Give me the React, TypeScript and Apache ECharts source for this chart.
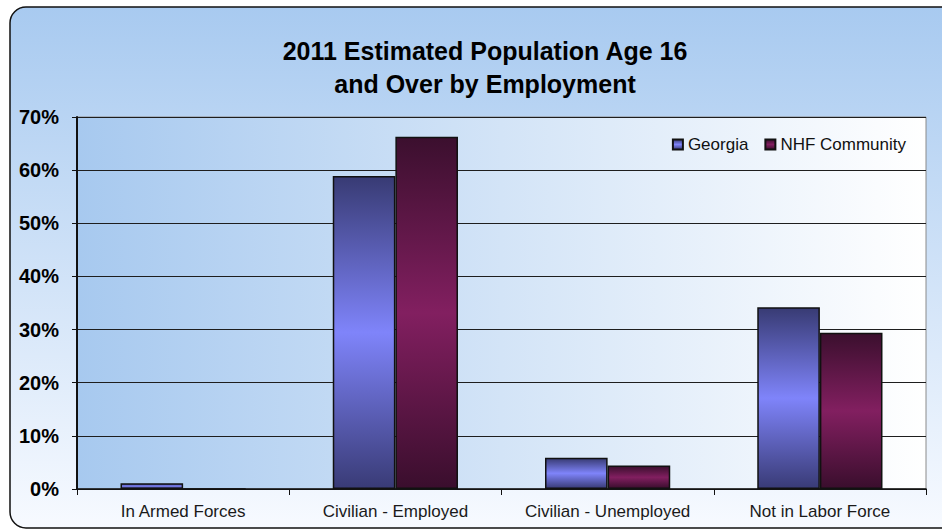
import React, { useEffect, useRef } from "react";
import * as echarts from "echarts";

const categories = ["In Armed Forces", "Civilian - Employed", "Civilian - Unemployed", "Not in Labor Force"];
const georgia = [1.1, 58.9, 5.9, 34.2];
const nhfCommunity = [0, 66.3, 4.4, 29.4];
const seriesNames = ["Georgia", "NHF Community"];
const titleText = "2011 Estimated Population Age 16\nand Over by Employment";

const FONT = "'Liberation Sans', Arial, sans-serif";

function barGradient(dark: string, light: string, dark2: string) {
  return new echarts.graphic.LinearGradient(0, 0, 0, 1, [
    { offset: 0, color: dark },
    { offset: 0.5, color: light },
    { offset: 1, color: dark2 },
  ]);
}

export default function App() {
  const ref = useRef<HTMLDivElement>(null);
  useEffect(() => {
    if (!ref.current) return;
    const chart = echarts.init(ref.current, null, { renderer: "svg" });
    chart.setOption({
      animation: false,
      backgroundColor: "#ffffff",
      graphic: [
        {
          type: "rect",
          z: -10,
          silent: true,
          shape: { x: 10, y: 7, width: 960, height: 521, r: 16 },
          style: {
            fill: new echarts.graphic.LinearGradient(0, 0, 0, 1, [
              { offset: 0, color: "#a8caf0" },
              { offset: 1, color: "#f7faff" },
            ]),
            stroke: "#111",
            lineWidth: 1.5,
          },
        },
      ],
      title: {
        text: titleText,
        left: 480,
        top: 29,
        textAlign: "center",
        textStyle: {
          fontFamily: FONT,
          fontSize: 25,
          fontWeight: "bold",
          color: "#000",
          lineHeight: 33,
        },
      },
      legend: {
        data: seriesNames,
        right: 31,
        top: 131,
        icon: "rect",
        itemWidth: 10,
        itemHeight: 10,
        itemGap: 16,
        textStyle: { fontFamily: FONT, fontSize: 17, color: "#111", padding: [0, 0, 0, 0] },
      },
      grid: {
        left: 77,
        right: 16,
        top: 117,
        bottom: 40,
        show: true,
        backgroundColor: new echarts.graphic.LinearGradient(0, 0, 1, 0, [
          { offset: 0, color: "#a7c9ef" },
          { offset: 1, color: "#ffffff" },
        ]),
        borderColor: "#8a8a8a",
        borderWidth: 1,
      },
      xAxis: {
        type: "category",
        data: categories,
        axisLine: { show: true, lineStyle: { color: "#111", width: 1.5 } },
        axisTick: { show: true, alignWithLabel: false, length: 6, lineStyle: { color: "#111" } },
        axisLabel: { fontFamily: FONT, fontSize: 17, color: "#1a1a1a", margin: 14, interval: 0 },
        splitLine: { show: false },
      },
      yAxis: {
        type: "value",
        min: 0,
        max: 70,
        interval: 10,
        axisLine: { show: true, lineStyle: { color: "#111", width: 2 } },
        axisTick: { show: true, length: 5, lineStyle: { color: "#111" } },
        axisLabel: {
          formatter: "{value}%",
          fontFamily: FONT,
          fontSize: 20,
          fontWeight: "bold",
          color: "#000",
          margin: 18,
        },
        splitLine: { show: true, lineStyle: { color: "#1e1e1e", width: 1 } },
      },
      series: [
        {
          name: seriesNames[0],
          type: "bar",
          data: georgia,
          barGap: "0%",
          barCategoryGap: "41%",
          itemStyle: {
            color: barGradient("#383b74", "#7f84fa", "#393b76"),
            borderColor: "#111",
            borderWidth: 1.5,
          },
        },
        {
          name: seriesNames[1],
          type: "bar",
          data: nhfCommunity,
          barGap: "0%",
          barCategoryGap: "41%",
          itemStyle: {
            color: barGradient("#3b0f2e", "#821f60", "#3a0e2d"),
            borderColor: "#111",
            borderWidth: 1.5,
          },
        },
      ],
    });
    return () => chart.dispose();
  }, []);
  return (
    <div
      ref={ref}
      style={{ position: "fixed", left: 0, top: 0, width: 942, height: 529 }}
    />
  );
}
